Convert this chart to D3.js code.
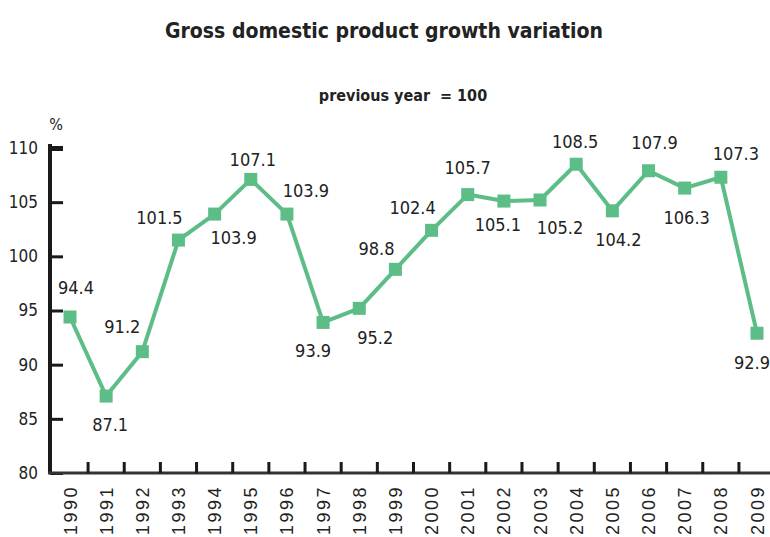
<!DOCTYPE html>
<html>
<head>
<meta charset="utf-8">
<script src="https://cdn.jsdelivr.net/npm/d3@7"></script>
<style>
  body { margin: 0; background: #fff; }
  text { fill: #222; }
</style>
</head>
<body>
<div id="chart"></div>
<script>
// values
const years = [1990, 1991, 1992, 1993, 1994, 1995, 1996, 1997, 1998, 1999,
               2000, 2001, 2002, 2003, 2004, 2005, 2006, 2007, 2008, 2009];
const gdpIndex = [94.4, 87.1, 91.2, 101.5, 103.9, 107.1, 103.9, 93.9, 95.2, 98.8,
                  102.4, 105.7, 105.1, 105.2, 108.5, 104.2, 107.9, 106.3, 107.3, 92.9];
const yTicks = [80, 85, 90, 95, 100, 105, 110];

const title = "Gross domestic product growth variation";
const subtitle = "previous year  = 100";

const data = years.map((yr, i) => ({ year: yr, value: gdpIndex[i] }));

// where each value label sits relative to its marker (dx, dy)
const labelOffsets = [
  [6, -29], [4, 29], [-20, -25], [-19, -22], [19, 24], [2, -20], [19, -23], [-10, 28],
  [16, 29], [-19, -21], [-19, -23], [0, -27], [-6, 24], [20, 28], [-1, -23], [6, 29],
  [6, -28], [2, 30], [15, -24], [-5, 29]
];

const width = 770, height = 537;
const green = "#5dbd87";
const narrow = "'DejaVu Sans', sans-serif";

const svg = d3.select("#chart").append("svg")
    .attr("width", width)
    .attr("height", height)
    .style("font-family", narrow)
    .style("font-stretch", "condensed");

const x = d3.scalePoint()
    .domain(years)
    .range([70, 757]);

const y = d3.scaleLinear()
    .domain([80, 110])
    .range([473, 148]);

// titles
svg.append("text")
    .attr("x", 384)
    .attr("y", 38)
    .attr("text-anchor", "middle")
    .style("font-size", "21px")
    .style("font-weight", "bold")
    .text(title);

svg.append("text")
    .attr("x", 403)
    .attr("y", 101)
    .attr("text-anchor", "middle")
    .style("font-size", "16px")
    .style("font-weight", "bold")
    .style("white-space", "pre")
    .text(subtitle);

svg.append("text")
    .attr("x", 56)
    .attr("y", 130)
    .attr("text-anchor", "middle")
    .style("font-size", "16px")
    .text("%");

// y axis
const yAxis = svg.append("g")
    .attr("transform", "translate(50,0)")
    .call(d3.axisLeft(y).tickValues(yTicks).tickSize(-13).tickPadding(12));
yAxis.select(".domain").remove();
yAxis.selectAll(".tick line")
    .attr("stroke", "#1a1a1a")
    .attr("stroke-width", d => d === 110 ? 5 : 3);
yAxis.selectAll(".tick text")
    .style("font-family", narrow)
    .style("font-size", "17px")
    .attr("fill", "#222");
yAxis.append("line")
    .attr("x1", 0).attr("x2", 0)
    .attr("y1", y(110) - 4).attr("y2", y(80))
    .attr("stroke", "#1a1a1a")
    .attr("stroke-width", 4);

// x axis line, ticks between years, rotated year labels
svg.append("line")
    .attr("x1", 48).attr("x2", width)
    .attr("y1", y(80)).attr("y2", y(80))
    .attr("stroke", "#333")
    .attr("stroke-width", 3);

const mids = years.slice(1).map((yr, i) => (x(years[i]) + x(yr)) / 2);
svg.selectAll(".xtick")
    .data(mids)
    .enter().append("line")
    .attr("class", "xtick")
    .attr("x1", d => d).attr("x2", d => d)
    .attr("y1", y(80)).attr("y2", y(80) - 11)
    .attr("stroke", "#1a1a1a")
    .attr("stroke-width", 3);

const xAxis = svg.append("g")
    .attr("transform", `translate(0,${y(80)})`)
    .call(d3.axisBottom(x).tickSize(0).tickPadding(0));
xAxis.select(".domain").remove();
xAxis.selectAll(".tick text")
    .style("font-family", "'Liberation Sans', Arial, sans-serif")
    .style("font-size", "18px")
    .style("letter-spacing", "2.5px")
    .attr("fill", "#222")
    .attr("text-anchor", "end")
    .attr("dy", null)
    .attr("transform", "translate(6,12) rotate(-90)");

// the line and its markers
const line = d3.line()
    .x(d => x(d.year))
    .y(d => y(d.value));

svg.append("path")
    .datum(data)
    .attr("fill", "none")
    .attr("stroke", green)
    .attr("stroke-width", 4)
    .attr("stroke-linejoin", "round")
    .attr("d", line);

svg.selectAll(".dot")
    .data(data)
    .enter().append("rect")
    .attr("class", "dot")
    .attr("x", d => x(d.year) - 6.5)
    .attr("y", d => y(d.value) - 6.5)
    .attr("width", 13)
    .attr("height", 13)
    .attr("fill", green);

// value labels
svg.selectAll(".vlabel")
    .data(data)
    .enter().append("text")
    .attr("class", "vlabel")
    .attr("x", (d, i) => x(d.year) + labelOffsets[i][0])
    .attr("y", (d, i) => y(d.value) + labelOffsets[i][1])
    .attr("dy", "0.35em")
    .attr("text-anchor", "middle")
    .style("font-size", "18px")
    .text(d => d.value.toFixed(1));
</script>
</body>
</html>
